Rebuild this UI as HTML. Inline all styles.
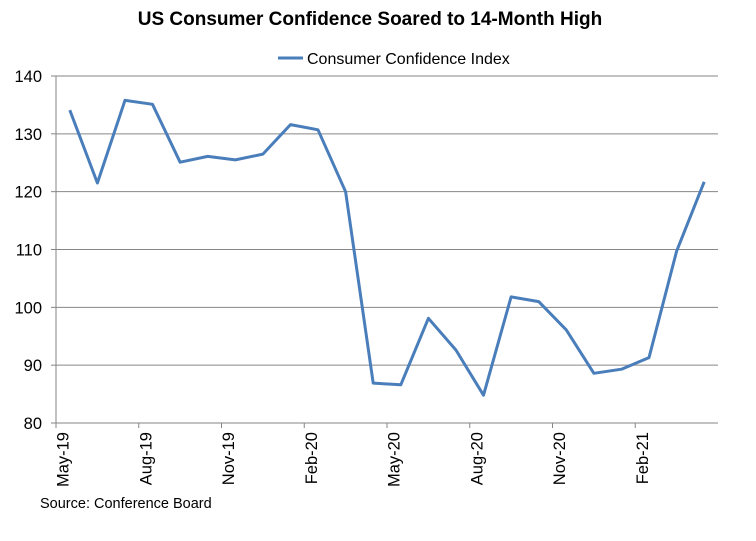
<!DOCTYPE html>
<html><head><meta charset="utf-8"><style>
body{margin:0;background:#fff;}
svg{display:block;font-family:"Liberation Sans",Arial,sans-serif;}
</style></head><body>
<svg id="chart" width="756" height="541">
<text x="370" y="25" text-anchor="middle" font-size="19" font-weight="bold" fill="#000">US Consumer Confidence Soared to 14-Month High</text>
<g>
<line x1="278" y1="58" x2="303" y2="58" stroke="#4a7ebb" stroke-width="3"/>
<text x="307" y="64" font-size="16" fill="#000">Consumer Confidence Index</text>
</g>
<text x="40" y="508" font-size="14.5" fill="#000">Source: Conference Board</text>
<g id="grid"></g><g id="axes"></g><g id="series"></g>
</svg>
<script>
const categories=["May-19","Jun-19","Jul-19","Aug-19","Sep-19","Oct-19","Nov-19","Dec-19","Jan-20","Feb-20","Mar-20","Apr-20","May-20","Jun-20","Jul-20","Aug-20","Sep-20","Oct-20","Nov-20","Dec-20","Jan-21","Feb-21","Mar-21","Apr-21"];
const values=[134.1,121.5,135.8,135.1,125.1,126.1,125.5,126.5,131.6,130.7,120.0,86.9,86.6,98.1,92.6,84.8,101.8,101.0,96.1,88.6,89.3,91.3,109.7,121.7];
const yTicks=[80,90,100,110,120,130,140];
const NS="http://www.w3.org/2000/svg";
const L=56,R=718,T=76,B=423,ymin=80,ymax=140;
const bw=(R-L)/categories.length;
function xs(i){return L+bw*(i+0.5);}
function ys(v){return B-(v-ymin)/(ymax-ymin)*(B-T);}
function mk(tag,attrs,parent){const e=document.createElementNS(NS,tag);for(const k in attrs)e.setAttribute(k,attrs[k]);parent.appendChild(e);return e;}
const grid=document.getElementById('grid'),axes=document.getElementById('axes'),series=document.getElementById('series');
yTicks.forEach(t=>{
  const y=ys(t);
  if(t!==ymin){const g=mk('line',{x1:L,x2:R,y1:y,y2:y,stroke:'#868686','stroke-width':1},grid);
  
  }
  const tk=mk('line',{x1:L-5,x2:L,y1:y,y2:y,stroke:'#868686'},axes);
  
  
  const tx=mk('text',{x:L-14,y:y+6,'text-anchor':'end','font-size':16.5,fill:'#000'},axes);
  tx.textContent=t;
  
  
});
const ya=mk('line',{x1:L,x2:L,y1:T,y2:B,stroke:'#868686'},axes);


const xa=mk('line',{x1:L,x2:R,y1:B,y2:B,stroke:'#868686'},axes);


categories.forEach((c,i)=>{
  if(i%3===0){
    const x=L+bw*i;
    const tk=mk('line',{x1:x,x2:x,y1:B,y2:B+5,stroke:'#868686'},axes);
    
    
    const cx=xs(i)-7;
    const tx=mk('text',{x:cx,y:432,'text-anchor':'end','font-size':16.5,fill:'#000',transform:`rotate(-90 ${cx} 432)`,dy:'0.35em'},axes);
    tx.textContent=c;
    
    
  }
});
const pts=values.map((v,i)=>xs(i).toFixed(1)+','+ys(v).toFixed(1)).join(' ');
const pl=mk('polyline',{points:pts,fill:'none',stroke:'#4a7ebb','stroke-width':3,'stroke-linejoin':'round'},series);


</script>
</body></html>
